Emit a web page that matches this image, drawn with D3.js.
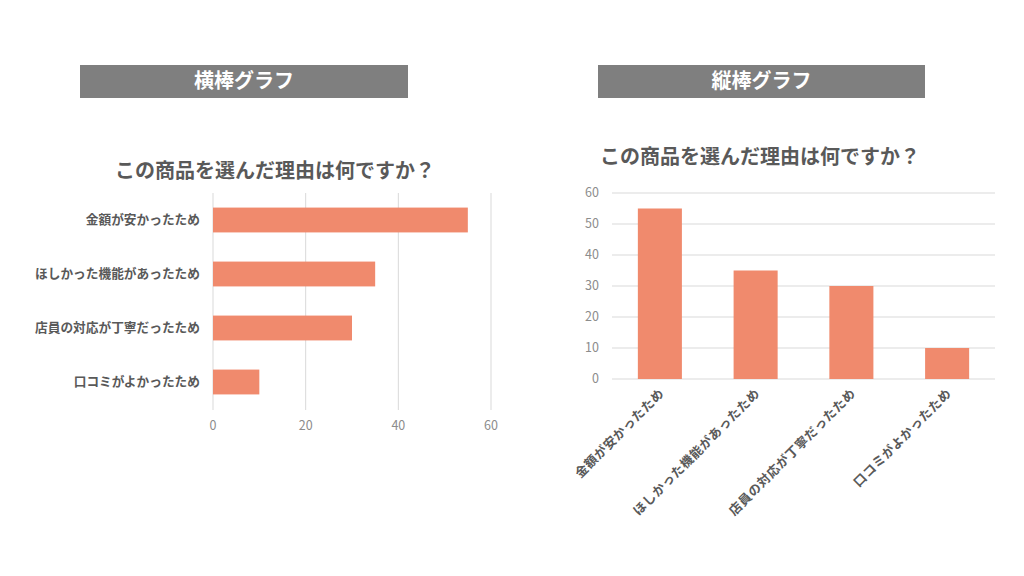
<!DOCTYPE html>
<html lang="ja">
<head>
  <meta charset="UTF-8" />
  <title>横棒グラフ / 縦棒グラフ</title>
  <script src="https://d3js.org/d3.v7.min.js"></script>
  <style>
    body { margin: 0; background: #fff; font-family: "Noto Sans CJK JP", "Noto Sans", sans-serif; }
    svg { display: block; }
    .grid line { stroke: #d9d9d9; stroke-width: 1px; }
    .tick-label { fill: #8c8c8c; font-size: 12.5px; }
    .cat-label { fill: #595959; font-size: 12.7px; font-weight: bold; }
    .vcat { letter-spacing: 0.6px; }
    .title { fill: #595959; font-size: 20px; font-weight: bold; }
    .header { fill: #fff; font-size: 20px; font-weight: bold; }
  </style>
</head>
<body>
  <svg width="1024" height="576"></svg>
  <script>
    const categories = ["金額が安かったため", "ほしかった機能があったため", "店員の対応が丁寧だったため", "口コミがよかったため"];
    const values = [55, 35, 30, 10];
    const ticks = [0, 20, 40, 60];
    const yTicks = [0, 10, 20, 30, 40, 50, 60];
    const chartTitle = "この商品を選んだ理由は何ですか？";
    const headers = ["横棒グラフ", "縦棒グラフ"];

    const barColor = "#f08a6d";
    const svg = d3.select("svg");

    // header bars
    const headerBoxes = [{ x: 80, w: 328 }, { x: 598, w: 327 }];
    headerBoxes.forEach((b, i) => {
      svg.append("rect").attr("x", b.x).attr("y", 65).attr("width", b.w).attr("height", 33).attr("fill", "#7f7f7f");
      svg.append("text").attr("class", "header")
        .attr("x", b.x + b.w / 2).attr("y", 81).attr("dy", "0.35em")
        .attr("text-anchor", "middle").text(headers[i]);
    });

    // ---- horizontal bar chart ----
    const h = svg.append("g");
    const hx = d3.scaleLinear().domain([0, 60]).range([213, 491]);
    const hy = d3.scaleBand().domain(categories).range([193, 409]).paddingInner(0.54).paddingOuter(0.27);

    h.append("text").attr("class", "title").attr("x", 275).attr("y", 171).attr("dy", "0.35em")
      .attr("text-anchor", "middle").text(chartTitle);

    h.append("g").attr("class", "grid").selectAll("line").data(ticks).join("line")
      .attr("x1", d => hx(d)).attr("x2", d => hx(d)).attr("y1", 193).attr("y2", 410);

    h.selectAll(".hbar").data(values).join("rect")
      .attr("x", hx(0)).attr("y", (d, i) => hy(categories[i]))
      .attr("width", d => hx(d) - hx(0)).attr("height", hy.bandwidth())
      .attr("fill", barColor);

    h.selectAll(".hcat").data(categories).join("text").attr("class", "cat-label")
      .attr("x", 200).attr("y", d => hy(d) + hy.bandwidth() / 2).attr("dy", "0.35em")
      .attr("text-anchor", "end").text(d => d);

    h.selectAll(".htick").data(ticks).join("text").attr("class", "tick-label")
      .attr("x", d => hx(d)).attr("y", 426).attr("dy", "0.35em")
      .attr("text-anchor", "middle").text(d => d);

    // ---- vertical bar chart ----
    const v = svg.append("g");
    const vy = d3.scaleLinear().domain([0, 60]).range([379, 193]);
    const vx = d3.scaleBand().domain(categories).range([612, 995]).paddingInner(0.54).paddingOuter(0.27);

    v.append("text").attr("class", "title").attr("x", 760).attr("y", 157).attr("dy", "0.35em")
      .attr("text-anchor", "middle").text(chartTitle);

    v.append("g").attr("class", "grid").selectAll("line").data(yTicks).join("line")
      .attr("x1", 612).attr("x2", 995).attr("y1", d => vy(d)).attr("y2", d => vy(d));

    v.selectAll(".vtick").data(yTicks).join("text").attr("class", "tick-label")
      .attr("x", 599).attr("y", d => vy(d)).attr("dy", "0.35em")
      .attr("text-anchor", "end").text(d => d);

    v.selectAll(".vbar").data(values).join("rect")
      .attr("x", (d, i) => vx(categories[i])).attr("y", d => vy(d))
      .attr("width", vx.bandwidth()).attr("height", d => vy(0) - vy(d))
      .attr("fill", barColor);

    v.selectAll(".vcat").data(categories).join("text").attr("class", "cat-label vcat")
      .attr("transform", d => `translate(${vx(d) + vx.bandwidth() / 2 + 2},${391}) rotate(-45)`)
      .attr("dy", "0.35em")
      .attr("text-anchor", "end").text(d => d);
  </script>
</body>
</html>
